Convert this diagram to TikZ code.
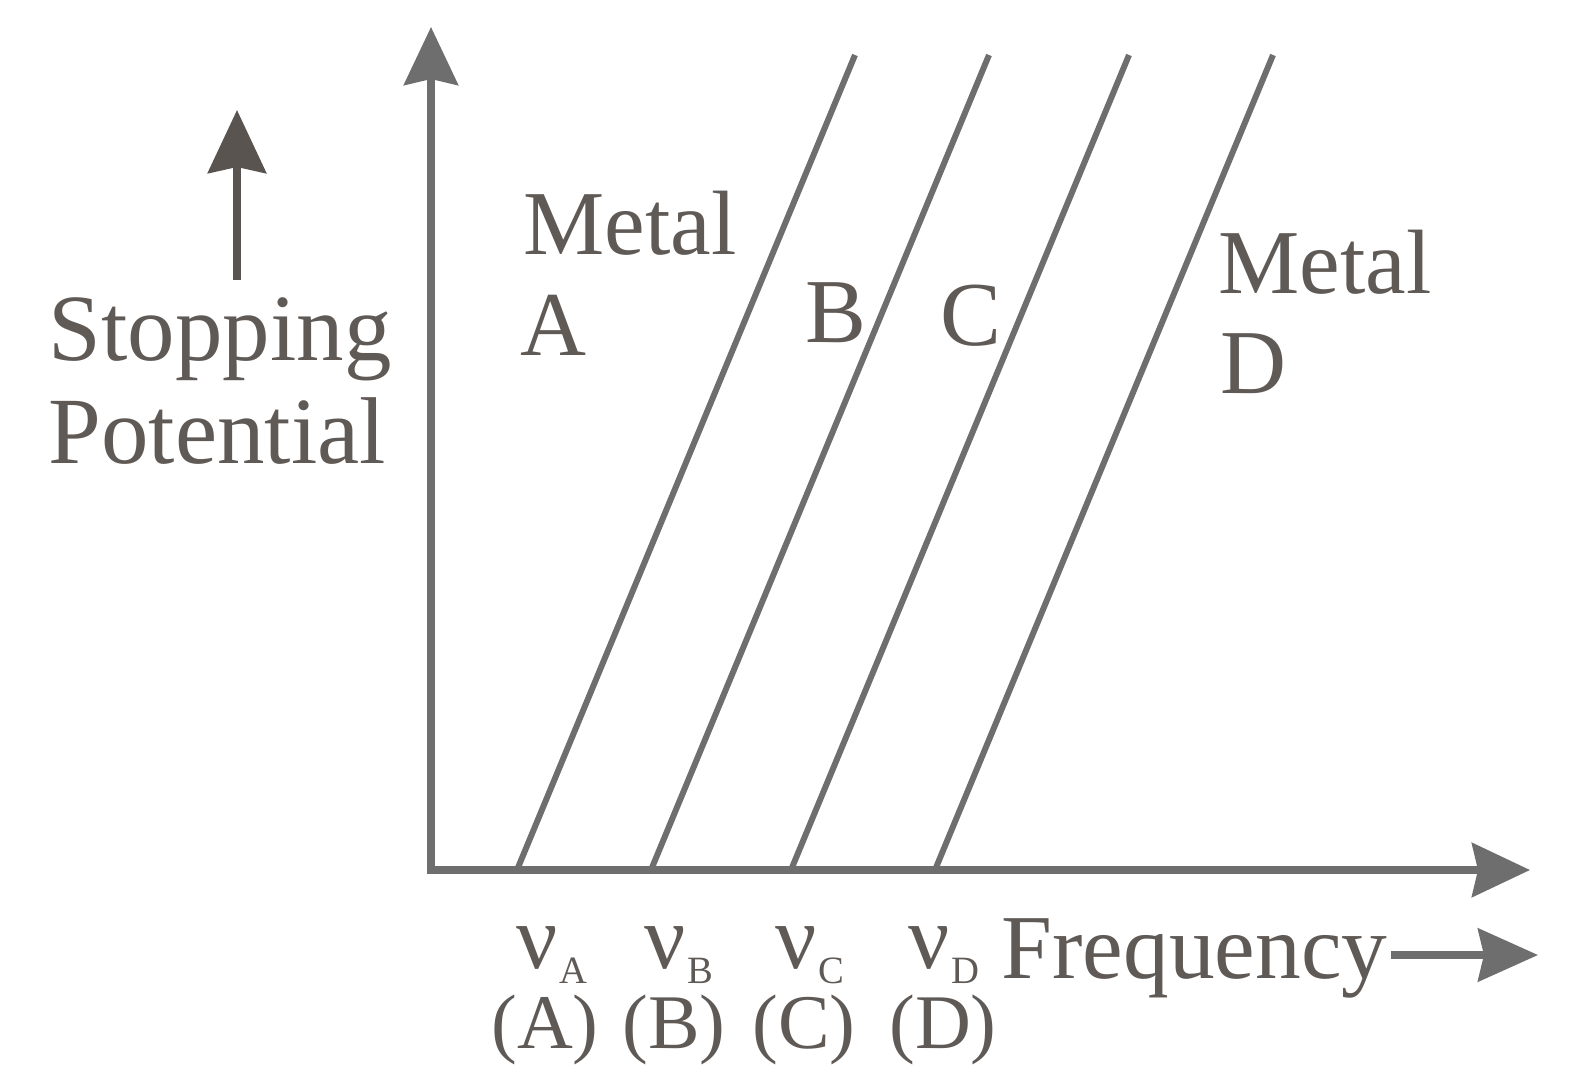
\documentclass[tikz,border=0pt]{standalone}
\usepackage{fontspec}
\setmainfont{Liberation Serif}
\usepackage{xcolor}
\usetikzlibrary{arrows.meta,positioning}

\definecolor{axisgray}{RGB}{110,110,110}
\definecolor{inkgray}{RGB}{96,90,86}
\definecolor{arrowbrown}{RGB}{90,84,80}

\newcommand{\nulabel}[1]{ν\hspace{0.5pt}\raisebox{-4.3pt}{\fontsize{11}{11}\selectfont #1}}

\tikzset{
  bigtxt/.style={font=\fontsize{26}{30}\selectfont, text=inkgray, inner sep=0pt},
  midtxt/.style={font=\fontsize{22}{26}\selectfont, text=inkgray, inner sep=0pt},
  axisline/.style={draw=axisgray, line width=2pt,
    >={Stealth[length=5.8mm,width=5.4mm,inset=0.6mm]}},
  metalline/.style={draw=axisgray, line width=1.7pt},
  uparrow/.style={draw=arrowbrown, line width=2.2pt,
    -{Stealth[length=6.3mm,width=5.8mm,inset=0.6mm]}},
  freqarrow/.style={draw=axisgray, line width=2pt,
    -{Stealth[length=6mm,width=5.3mm,inset=0.6mm]}}
}

\begin{document}
\begin{tikzpicture}
    \useasboundingbox (0,0) rectangle (15.81,10.84);

    % axes
    \coordinate (O) at (4.31,2.14);
    \coordinate (ytip) at (4.31,10.57);
    \coordinate (xtip) at (15.30,2.14);
    \draw [axisline, <->] (ytip) -- (O) -- (xtip);

    % one line per metal
    \foreach \m/\x in {A/5.17, B/6.51, C/7.91, D/9.35} {
        \coordinate (f\m) at (\x,2.14);
        \coordinate (t\m) at (\x+3.38,10.29);
        \draw [metalline] (f\m) -- (t\m);
    }

    % vertical label
    \node [bigtxt, font=\fontsize{27}{30}\selectfont, anchor=base west] (stop) at (0.48,7.24) {Stopping};
    \node [bigtxt, font=\fontsize{27}{30}\selectfont, anchor=base west] (pot) at (0.48,6.21) {Potential};
    \coordinate (sbot) at (2.37,8.04);
    \coordinate (stip) at (2.37,9.74);
    \draw [uparrow] (sbot) -- (stip);

    % metal names
    \node [bigtxt, anchor=base west] (metA) at (5.23,8.30) {Metal};
    \node [bigtxt, anchor=base west] (letA) at (5.20,7.29) {A};
    \node [bigtxt, anchor=base west] (letB) at (8.05,7.42) {B};
    \node [bigtxt, anchor=base west] (letC) at (9.40,7.39) {C};
    \node [bigtxt, anchor=base west] (metD) at (12.18,7.91) {Metal};
    \node [bigtxt, anchor=base west] (letD) at (12.20,6.91) {D};

    % threshold frequencies
    \foreach \m/\x in {A/5.16, B/6.44, C/7.75, D/9.08}
        \node [bigtxt, anchor=base west] (nu\m) at (\x,1.16) {\nulabel{\m}};
    \foreach \m/\x in {A/5.45, B/6.74, C/8.04, D/9.43}
        \node [midtxt, anchor=base] (par\m) at (\x,0.36) {(\m)};

    % horizontal label
    \node [bigtxt, anchor=base west] (freq) at (10.01,1.06) {Frequency};
    \coordinate (ftip) at (15.38,1.29);
    \draw [freqarrow] ([xshift=0.03cm]freq.east |- ftip) -- (ftip);
\end{tikzpicture}
\end{document}
